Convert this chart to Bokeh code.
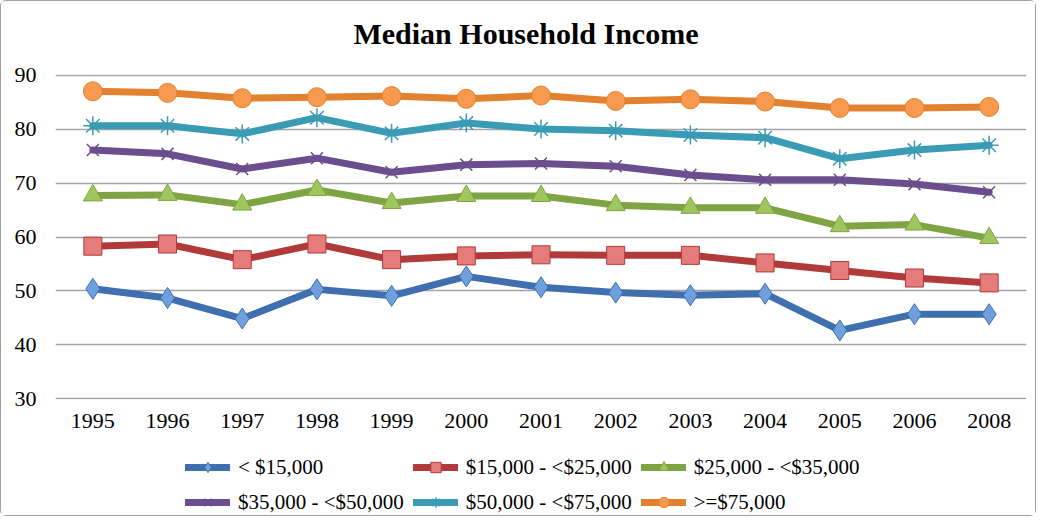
from bokeh.plotting import figure
from bokeh.models import FactorRange, Legend, LegendItem, Range1d
from bokeh.layouts import column
from bokeh.core.properties import value
from bokeh.embed import file_html
from bokeh.resources import INLINE

years = ["1995", "1996", "1997", "1998", "1999", "2000", "2001",
         "2002", "2003", "2004", "2005", "2006", "2008"]

under_15k = [50.4, 48.7, 44.9, 50.3, 49.1, 52.7, 50.7, 49.7, 49.2, 49.5, 42.7, 45.7, 45.7]
k15_25 = [58.3, 58.7, 55.8, 58.7, 55.8, 56.5, 56.7, 56.6, 56.6, 55.2, 53.8, 52.4, 51.5]
k25_35 = [67.7, 67.8, 66.0, 68.7, 66.3, 67.6, 67.6, 65.9, 65.4, 65.4, 62.0, 62.3, 59.8]
k35_50 = [76.1, 75.4, 72.6, 74.6, 72.0, 73.4, 73.6, 73.1, 71.5, 70.6, 70.6, 69.8, 68.3]
k50_75 = [80.6, 80.6, 79.1, 82.1, 79.2, 81.1, 80.0, 79.7, 78.9, 78.4, 74.5, 76.1, 77.0]
over_75k = [87.0, 86.7, 85.7, 85.9, 86.1, 85.6, 86.2, 85.2, 85.5, 85.1, 83.9, 83.9, 84.1]

series_names = ["< $15,000", "$15,000 - <$25,000", "$25,000 - <$35,000",
                "$35,000 - <$50,000", "$50,000 - <$75,000", ">=$75,000"]
y_ticks = [30, 40, 50, 60, 70, 80, 90]
title_text = "Median Household Income"

FONT = "Liberation Serif"
NAN = float("nan")
W = 1034
TH = 61   # title strip height
LH = 70   # legend strip height

# ---- title strip (no axes) ----
t = figure(width=W, height=TH, output_backend="svg", toolbar_location=None,
           x_range=Range1d(0, W), y_range=Range1d(0, TH),
           x_axis_location=None, y_axis_location=None,
           min_border_left=0, min_border_right=0, min_border_top=0, min_border_bottom=0)
t.grid.visible = False
t.outline_line_color = None
t.title = None
t.text(x=[501], y=[29], text=[title_text], text_align="center", text_baseline="middle",
       text_font=value(FONT), text_font_size="30px", text_font_style="bold", text_color="black")

# ---- main chart ----
p = figure(x_range=FactorRange(*years), y_range=(29.9, 90.1),
           width=W, height=383, output_backend="svg", toolbar_location=None,
           min_border_left=54, min_border_right=9, min_border_top=12, min_border_bottom=46)
p.title = None
p.outline_line_color = None
p.background_fill_color = "white"
p.border_fill_color = "white"

p.xgrid.grid_line_color = None
p.ygrid.grid_line_color = "#a3a3a3"
p.ygrid.grid_line_width = 1.6
p.yaxis.ticker = y_ticks

for ax in (p.xaxis, p.yaxis):
    ax.axis_line_color = None
    ax.major_tick_line_color = None
    ax.minor_tick_line_color = None
    ax.major_tick_out = 0
    ax.major_tick_in = 0
    ax.major_label_text_font = FONT
    ax.major_label_text_font_size = "22px"
    ax.major_label_text_color = "black"
p.yaxis.major_label_standoff = 19
p.xaxis.major_label_standoff = 14

styles = [
    (under_15k, "#3f6fae", "#6f9fdc", "diamond", 21),
    (k15_25, "#b03b3a", "#e57b7b", "square", 18),
    (k25_35, "#7ea444", "#9fc75e", "triangle", 19),
    (k35_50, "#6a4e8e", "#7d60a0", "x", 17),
    (k50_75, "#3a9bb5", "#46aac5", "asterisk", 19),
    (over_75k, "#e2812f", "#f79a50", "circle", 19),
]

# ---- legend strip (no axes) ----
q = figure(width=W, height=LH, output_backend="svg", toolbar_location=None,
           x_range=Range1d(0, 1), y_range=Range1d(0, 1),
           x_axis_location=None, y_axis_location=None,
           min_border_left=0, min_border_right=0, min_border_top=0, min_border_bottom=0)
q.grid.visible = False
q.outline_line_color = None
q.title = None
q.border_fill_color = "white"

items = []
for name, (vals, lc, fc, marker, size) in zip(series_names, styles):
    lw = 1.5 if marker in ("x", "asterisk") else 1
    p.line(years, vals, line_color=lc, line_width=7, line_join="round", line_cap="round")
    p.scatter(years, vals, marker=marker, size=size, fill_color=fc, line_color=lc, line_width=lw)
    # proxy renderers (no visible data) that only feed the legend strip
    ln = q.line(x=[NAN], y=[NAN], line_color=lc, line_width=7, line_cap="round")
    sc = q.scatter(x=[NAN], y=[NAN], marker=marker, size=size, fill_color=fc,
                   line_color=lc, line_width=lw)
    items.append(LegendItem(label=name, renderers=[ln, sc]))

# legend fills column by column: reorder so rows read 1-2-3 / 4-5-6
ordered = [items[0], items[3], items[1], items[4], items[2], items[5]]

legend = Legend(items=ordered, ncols=3, location=(130, 0),
                glyph_width=45, glyph_height=26, label_standoff=8,
                label_width=162, spacing=9, padding=0, margin=0,
                border_line_color=None, background_fill_alpha=0,
                label_text_font=FONT, label_text_font_size="21px",
                label_text_color="black")
q.add_layout(legend, "center")

layout = column(t, p, q, spacing=0)
layout.styles = {"border": "1px solid #a0a0a0", "border-radius": "6px"}

open("out.html", "w").write(file_html(layout, INLINE))
